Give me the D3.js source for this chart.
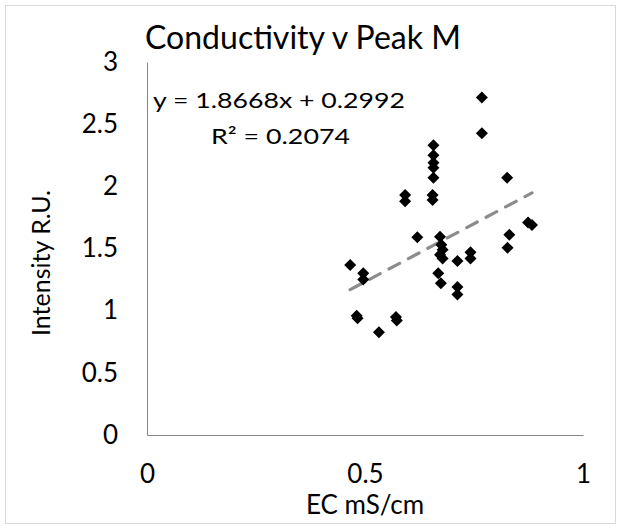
<!DOCTYPE html>
<html><head><meta charset="utf-8">
<script src="https://cdn.jsdelivr.net/npm/d3@7"></script>
<style>body{margin:0;background:#fff}svg{display:block;font-family:Lato,"Open Sans",sans-serif}</style>
</head><body><svg id="c" width="621" height="529"></svg>
<script>
const ecValues = [0.466, 0.496, 0.496, 0.481, 0.483, 0.532, 0.571, 0.573, 0.592, 0.592, 0.655, 0.655, 0.657, 0.657, 0.657, 0.657, 0.657, 0.620, 0.672, 0.675, 0.678, 0.672, 0.678, 0.668, 0.674, 0.712, 0.712, 0.712, 0.742, 0.742, 0.768, 0.768, 0.826, 0.831, 0.827, 0.874, 0.883];
const intensityValues = [1.367, 1.30, 1.25, 0.96, 0.94, 0.826, 0.95, 0.92, 1.93, 1.88, 1.93, 1.89, 2.33, 2.25, 2.19, 2.15, 2.07, 1.59, 1.595, 1.53, 1.49, 1.45, 1.42, 1.30, 1.22, 1.40, 1.19, 1.13, 1.47, 1.42, 2.715, 2.427, 2.07, 1.61, 1.506, 1.71, 1.69];
const xTicks = [0, 0.5, 1];
const yTicks = [0, 0.5, 1, 1.5, 2, 2.5, 3];
const slope = 1.8668, intercept = 0.2992;
const title = "Conductivity v Peak M";
const eqLabel = "y = 1.8668x + 0.2992";
const r2Label = "R² = 0.2074";
const xTitle = "EC mS/cm", yTitle = "Intensity R.U.";

const svg = d3.select("#c");
const m = {l:147, r:583, t:62, b:435};
const x = d3.scaleLinear().domain([0,1]).range([m.l, m.r]);
const y = d3.scaleLinear().domain([0,3]).range([m.b, m.t]);

svg.append("rect").attr("x",5.5).attr("y",5.5).attr("width",610).attr("height",518)
  .attr("fill","#fff").attr("stroke","#d9d9d9");

const xa = svg.append("g").attr("transform",`translate(0,${m.b})`)
  .call(d3.axisBottom(x).tickValues(xTicks).tickSize(0).tickPadding(30).tickFormat(d3.format("")));
const ya = svg.append("g").attr("transform",`translate(${m.l},0)`)
  .call(d3.axisLeft(y).tickValues(yTicks).tickSize(0).tickPadding(29).tickFormat(d3.format("")));
[xa,ya].forEach(a=>{
  a.select(".domain").attr("stroke","#868686").attr("stroke-width",1);
  a.selectAll("text").attr("font-size",26).attr("fill","#000").attr("font-family","Lato,'Open Sans',sans-serif");
});

const xs = d3.extent(ecValues);
svg.append("line")
  .attr("x1",x(xs[0])).attr("y1",y(slope*xs[0]+intercept))
  .attr("x2",x(xs[1])).attr("y2",y(slope*xs[1]+intercept))
  .attr("stroke","#8c8c8c").attr("stroke-width",3.2).attr("stroke-dasharray","12,10")
  .attr("stroke-linecap","round");

const diamond = {draw(ctx,size){const r=Math.sqrt(size/2);ctx.moveTo(0,-r);ctx.lineTo(r,0);ctx.lineTo(0,r);ctx.lineTo(-r,0);ctx.closePath();}};
svg.append("g").selectAll("path").data(ecValues.map((d,i)=>[d,intensityValues[i]])).join("path")
  .attr("transform",d=>`translate(${x(d[0])},${y(d[1])})`)
  .attr("d",d3.symbol(diamond,72)).attr("fill","#000");

svg.append("text").attr("x",303).attr("y",49).attr("text-anchor","middle").attr("font-size",32).text(title);
svg.append("text").attr("x",153).attr("y",108).attr("font-size",22)
  .attr("textLength",252).attr("lengthAdjust","spacingAndGlyphs").text(eqLabel);
svg.append("text").attr("x",211).attr("y",144).attr("font-size",22)
  .attr("textLength",139).attr("lengthAdjust","spacingAndGlyphs").text(r2Label);
svg.append("text").attr("x",365).attr("y",514).attr("text-anchor","middle").attr("font-size",26).text(xTitle);
svg.append("text").attr("transform","translate(50,263) rotate(-90)").attr("text-anchor","middle").attr("font-size",25).text(yTitle);
</script></body></html>
